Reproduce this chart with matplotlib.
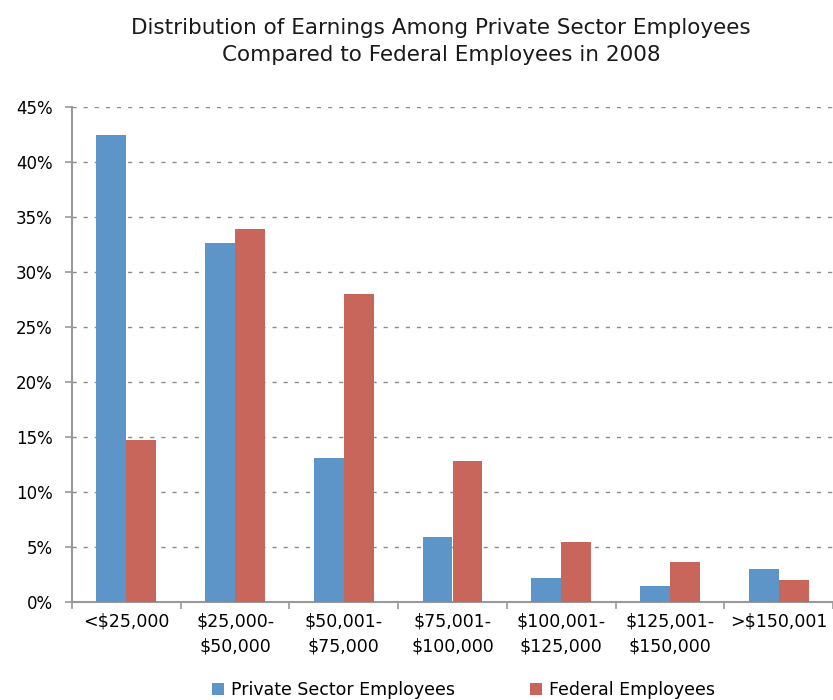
import matplotlib
matplotlib.use("Agg")
import matplotlib.pyplot as plt
import numpy as np

categories = ["<$25,000", "$25,000-\n$50,000", "$50,001-\n$75,000", "$75,001-\n$100,000",
              "$100,001-\n$125,000", "$125,001-\n$150,000", ">$150,001"]
private = [42.4, 32.6, 13.1, 5.9, 2.2, 1.4, 3.0]
federal = [14.7, 33.9, 28.0, 12.8, 5.4, 3.6, 2.0]
yticks = [0, 5, 10, 15, 20, 25, 30, 35, 40, 45]
title = "Distribution of Earnings Among Private Sector Employees\nCompared to Federal Employees in 2008"
series_names = ["Private Sector Employees", "Federal Employees"]

plt.rcParams['font.family'] = ['DejaVu Sans']

blue = "#5E95C9"
red = "#C9665C"

fig = plt.figure(figsize=(8.33, 7.0), dpi=100)
ax = fig.add_axes([72/833, 98.3/700, 761/833, 495/700])

x = np.arange(len(categories))
w = 0.275
ax.bar(x - w/2, private, w, color=blue, label=series_names[0], zorder=3)
ax.bar(x + w/2, federal, w, color=red, label=series_names[1], zorder=3)

ax.set_xlim(-0.5, -0.5 + 761/110)
ax.set_ylim(0, 45)
ax.set_yticks(yticks)
ax.set_yticklabels([f"{v}%" for v in yticks], fontsize=12)
ax.set_xticks(x)
ax.set_xticklabels(categories, fontsize=12.5, linespacing=1.45)
ax.set_xticks(np.arange(len(categories) + 1) - 0.5, minor=True)
ax.tick_params(axis='x', which='major', length=0, pad=8)
ax.tick_params(axis='x', which='minor', length=5, color="#999999", width=1.2)
ax.tick_params(axis='y', length=5, color="#999999", width=1.2, pad=9)

ax.yaxis.grid(True, linestyle=(0, (3, 5)), color="#8C8C8C", linewidth=1.0, zorder=0)
ax.set_axisbelow(True)
for s in ["top", "right"]:
    ax.spines[s].set_visible(False)
for s in ["left", "bottom"]:
    ax.spines[s].set_color("#999999")
    ax.spines[s].set_linewidth(1.5)

fig.text(441/833, 1 - 41.5/700, title, ha="center", va="center", fontsize=15.5, linespacing=1.4,
         color="#1a1a1a")

leg = fig.legend(loc="center", bbox_to_anchor=(463.5/833, 1 - 690/700), ncol=2, frameon=False,
                 fontsize=12.5, handlelength=0.7, handleheight=0.7, columnspacing=4.3, handletextpad=0.4)

fig.savefig("out.png", dpi=100)
